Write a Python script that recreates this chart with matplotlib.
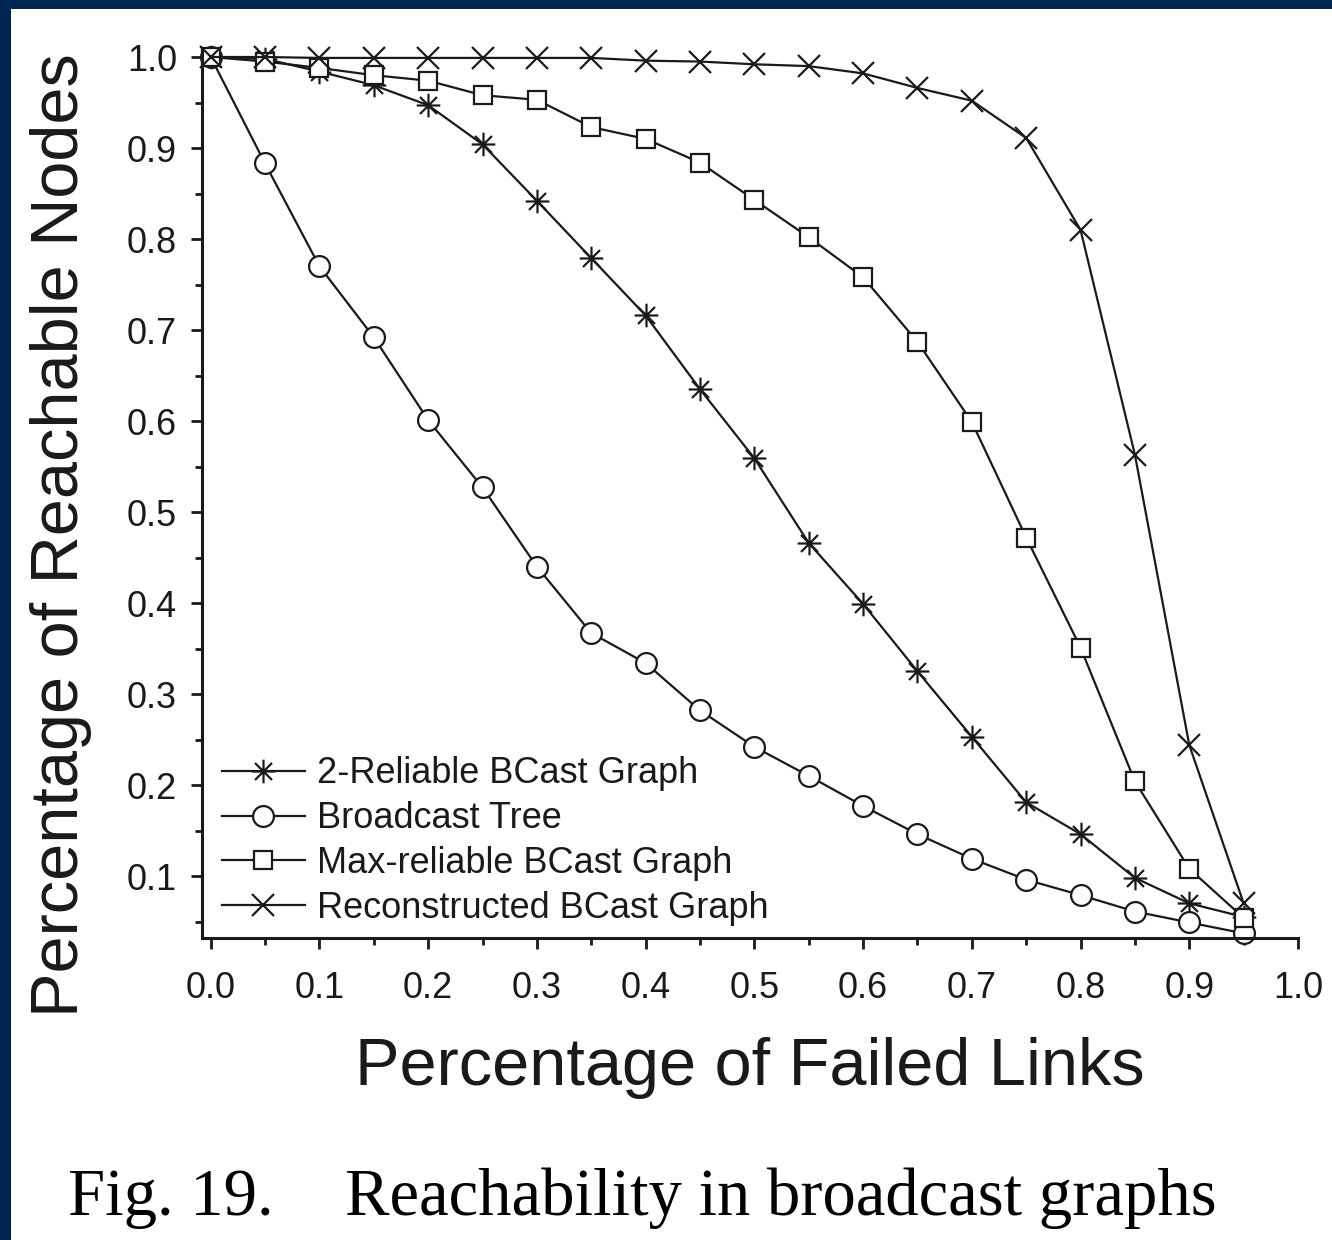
import matplotlib
matplotlib.use("Agg")
import matplotlib.pyplot as plt
from matplotlib.path import Path
from matplotlib.patches import Rectangle
from matplotlib.ticker import MultipleLocator

# ---- data -------------------------------------------------------------
failed_links = [0.00, 0.05, 0.10, 0.15, 0.20, 0.25, 0.30, 0.35, 0.40, 0.45,
                0.50, 0.55, 0.60, 0.65, 0.70, 0.75, 0.80, 0.85, 0.90, 0.95]

reliable2 = [1.000, 0.998, 0.984, 0.969, 0.947, 0.904, 0.842, 0.779, 0.716, 0.635,
             0.559, 0.466, 0.399, 0.325, 0.253, 0.181, 0.146, 0.098, 0.070, 0.055]

bcast_tree = [1.000, 0.883, 0.770, 0.692, 0.601, 0.527, 0.440, 0.367, 0.334, 0.282,
              0.242, 0.210, 0.177, 0.146, 0.119, 0.096, 0.079, 0.061, 0.049, 0.037]

max_reliable = [1.000, 0.995, 0.988, 0.980, 0.974, 0.958, 0.953, 0.923, 0.910, 0.884,
                0.843, 0.802, 0.758, 0.687, 0.599, 0.472, 0.351, 0.204, 0.108, 0.054]

reconstructed = [1.000, 1.000, 0.999, 0.999, 0.999, 0.999, 0.999, 0.999, 0.996, 0.995,
                 0.992, 0.990, 0.982, 0.966, 0.952, 0.911, 0.810, 0.563, 0.244, 0.070]

labels = ["2-Reliable BCast Graph", "Broadcast Tree",
          "Max-reliable BCast Graph", "Reconstructed BCast Graph"]

x_ticks = [0.0, 0.1, 0.2, 0.3, 0.4, 0.5, 0.6, 0.7, 0.8, 0.9, 1.0]
y_ticks = [0.1, 0.2, 0.3, 0.4, 0.5, 0.6, 0.7, 0.8, 0.9, 1.0]

# ---- styling ----------------------------------------------------------
W, H = 1332, 1240
DPI = 100
ink = "#1a1a1a"
navy = "#002452"
sans = ["Liberation Sans", "DejaVu Sans"]
serif = ["Liberation Serif", "DejaVu Serif"]

# eight-armed asterisk marker
a = 0.36
asterisk = Path(
    [(0, -0.5), (0, 0.5), (-0.5, 0), (0.5, 0),
     (-a, -a), (a, a), (-a, a), (a, -a)],
    [Path.MOVETO, Path.LINETO] * 4,
)

fig = plt.figure(figsize=(W / DPI, H / DPI), dpi=DPI, facecolor="white")

# page frame strips
fig.add_artist(Rectangle((0, 1 - 9 / H), 1, 9 / H, transform=fig.transFigure,
                         facecolor=navy, edgecolor="none", zorder=10))
fig.add_artist(Rectangle((0, 0), 11 / W, 1, transform=fig.transFigure,
                         facecolor=navy, edgecolor="none", zorder=10))

ax_left, ax_right = 202 / W, 1298 / W
ax_top, ax_bottom = 1 - 48 / H, 1 - 938 / H
ax = fig.add_axes([ax_left, ax_bottom, ax_right - ax_left, ax_top - ax_bottom])

series = [
    (reliable2, dict(marker=asterisk, markersize=17, markerfacecolor=ink)),
    (bcast_tree, dict(marker="o", markersize=15, markerfacecolor="white")),
    (max_reliable, dict(marker="s", markersize=13, markerfacecolor="white")),
    (reconstructed, dict(marker="x", markersize=16, markerfacecolor=ink)),
]

for (vals, style), lab in zip(series, labels):
    ax.plot(failed_links, vals, color=ink, linewidth=1.6,
            markeredgecolor=ink, markeredgewidth=1.6, label=lab,
            clip_on=False, **style)

ax.set_xlim(-0.008, 1.0)
ax.set_ylim(0.0319, 1.0099)

for side in ("top", "right"):
    ax.spines[side].set_visible(False)
for side in ("left", "bottom"):
    ax.spines[side].set_linewidth(2.2)
    ax.spines[side].set_color(ink)

ax.set_xticks(x_ticks)
ax.set_xticklabels([f"{t:.1f}" for t in x_ticks])
ax.set_yticks(y_ticks)
ax.set_yticklabels([f"{t:.1f}" for t in y_ticks])
ax.xaxis.set_minor_locator(MultipleLocator(0.05))
ax.yaxis.set_minor_locator(MultipleLocator(0.05))
ax.tick_params(which="major", direction="out", length=8, width=2.0,
               color=ink, labelcolor=ink, labelsize=26)
ax.tick_params(axis="x", which="major", pad=16)
ax.tick_params(axis="y", which="major", pad=10)
ax.tick_params(which="minor", direction="out", length=5, width=2.0, color=ink)
for lbl in ax.get_xticklabels() + ax.get_yticklabels():
    lbl.set_family(sans)

leg = ax.legend(loc="upper left", bbox_to_anchor=(0.018, 0.204),
                frameon=False, prop={"family": sans, "size": 26},
                handlelength=2.3, handletextpad=0.35, labelspacing=0.27,
                borderpad=0, borderaxespad=0, numpoints=1)
for t in leg.get_texts():
    t.set_color(ink)

fig.text(750 / W, 1 - 1085 / H, "Percentage of Failed Links",
         ha="center", va="baseline", fontsize=48, family=sans, color=ink)
fig.text(78 / W, 1 - 535 / H, "Percentage of Reachable Nodes",
         rotation=90, rotation_mode="anchor", ha="center", va="baseline",
         fontsize=48, family=sans, color=ink)

fig.text(68 / W, 1 - 1215 / H, "Fig. 19.", ha="left", va="baseline",
         fontsize=48, family=serif, color="black")
fig.text(345 / W, 1 - 1215 / H, "Reachability in broadcast graphs",
         ha="left", va="baseline", fontsize=48, family=serif, color="black")

fig.savefig("out.png", dpi=DPI, facecolor="white")
